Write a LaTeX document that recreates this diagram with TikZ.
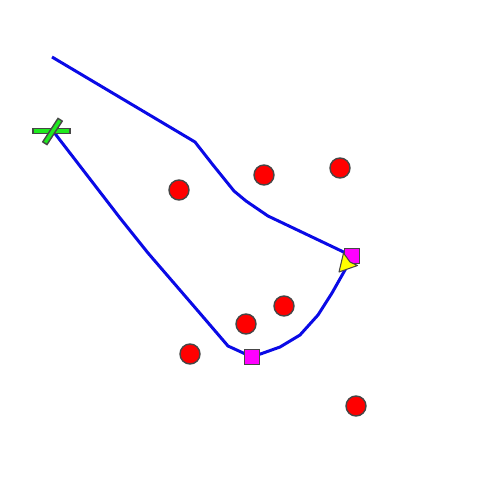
\documentclass[tikz,border=0pt]{standalone}
\usepackage{xcolor}
\definecolor{pathblue}{RGB}{10,10,230}
\definecolor{obstred}{RGB}{255,0,0}
\definecolor{wpmagenta}{RGB}{255,0,255}
\definecolor{goalgreen}{RGB}{30,235,30}
\definecolor{robotyellow}{RGB}{255,255,0}
\definecolor{edgegray}{RGB}{70,70,70}

\begin{document}
\begin{tikzpicture}[
    x=0.01cm, y=-0.01cm,
    obstacle/.style={circle, draw=edgegray, fill=obstred, minimum size=0.2cm, inner sep=0pt},
    waypoint/.style={rectangle, draw=edgegray, fill=wpmagenta, minimum size=0.155cm, inner sep=0pt},
    goalbar/.style={rectangle, draw=edgegray, fill=goalgreen, minimum width=0.37cm, minimum height=0.05cm, inner sep=0pt},
    track/.style={draw=pathblue, line width=0.85pt, line join=round}
]
\useasboundingbox (0,0) rectangle (500,500);
\coordinate (start) at (52,57);
\coordinate (goal) at (53,131);
\foreach \x/\y [count=\i] in {195/142, 213/165, 234/191, 246/201, 268/216} {
    \coordinate (up\i) at (\x,\y);
}
\foreach \x/\y [count=\i] in {345/270, 332/293, 318/315, 300/335, 280/347} {
    \coordinate (turn\i) at (\x,\y);
}
\foreach \x/\y [count=\i] in {228/346, 198/311, 148/253, 120/218} {
    \coordinate (back\i) at (\x,\y);
}
\node[waypoint, draw=none, fill=none] (wp1) at (352,256) {};
\node[waypoint, draw=none, fill=none] (wp2) at (252,357) {};
\draw[track] (start) \foreach \i in {1,...,5} {-- (up\i)} -- (wp1.center)
    \foreach \i in {1,...,5} {-- (turn\i)} -- (wp2.center)
    \foreach \i in {1,...,4} {-- (back\i)} -- (goal);
\foreach \x/\y [count=\i] in {179/190, 264/175, 340/168, 284/306, 246/324, 190/354, 356/406} {
    \node[obstacle] (obs\i) at (\x,\y) {};
}
\node[waypoint] at (wp1) {};
\node[waypoint] at (wp2) {};
\filldraw[fill=robotyellow, draw=edgegray, line width=0.3pt, line join=round]
    (343.5,253) -- (350,262) -- (357.5,265.5) -- (339,272) -- cycle;
\node[goalbar] (goalh) at (51.5,131) {};
\node[goalbar, minimum width=0.28cm, rotate=57] (goald) at (52.5,131.5) {};
\end{tikzpicture}
\end{document}
